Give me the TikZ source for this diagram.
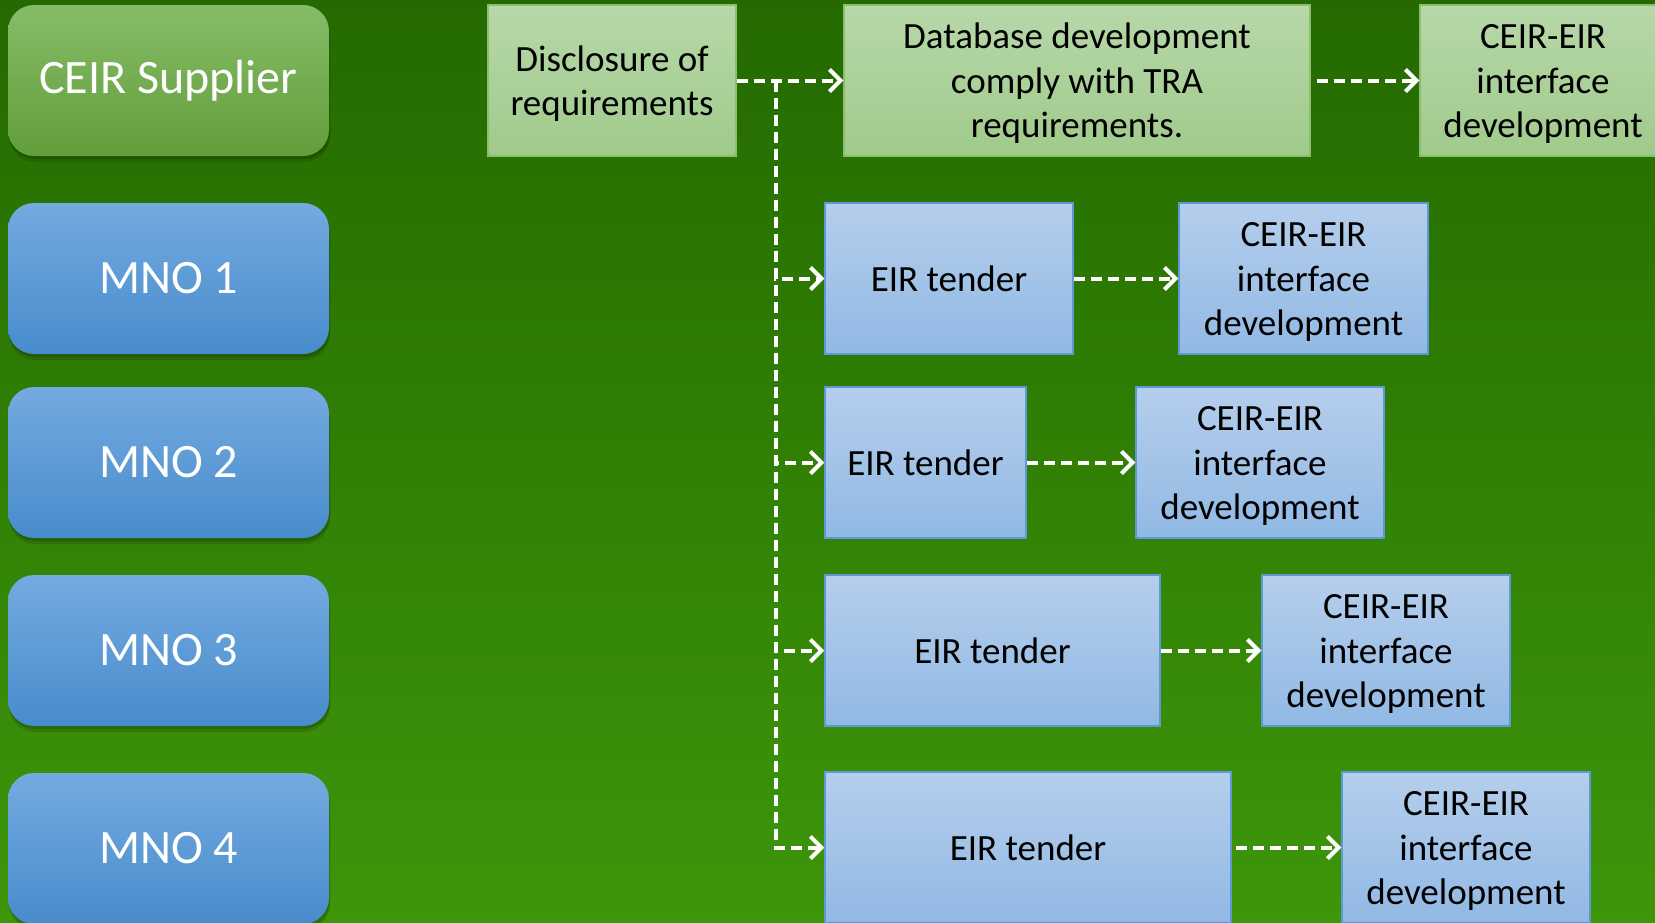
\documentclass[tikz,border=0pt]{standalone}
\usepackage{fontspec}
\setmainfont{Carlito}
\usetikzlibrary{arrows.meta}
\definecolor{bgtop}{RGB}{36,106,0}
\definecolor{bgbot}{RGB}{62,150,10}
\definecolor{gtop}{RGB}{183,216,169}
\definecolor{gbot}{RGB}{160,202,139}
\definecolor{gborder}{RGB}{140,190,110}
\definecolor{btop}{RGB}{181,206,236}
\definecolor{bbot}{RGB}{145,185,228}
\definecolor{bborder}{RGB}{95,152,215}
\definecolor{stop}{RGB}{134,188,104}
\definecolor{sbot}{RGB}{98,158,58}
\definecolor{mtop}{RGB}{116,170,224}
\definecolor{mbot}{RGB}{72,140,204}
\newcommand{\mlines}[1]{\raisebox{-4pt}[\height][\depth]{\begin{tabular}{@{}c@{}}#1\end{tabular}}}
\tikzset{
  lbox/.style={rounded corners=26pt, minimum width=321pt, minimum height=151pt,
    text=white, font=\fontsize{48}{58}\selectfont, inner sep=0pt,
    preaction={fill=black, opacity=0.12, transform canvas={xshift=1pt,yshift=-6pt}},
    preaction={fill=black, opacity=0.15, transform canvas={xshift=1pt,yshift=-3pt}}},
  supbox/.style={lbox, top color=stop, bottom color=sbot},
  mnobox/.style={lbox, top color=mtop, bottom color=mbot},
  pbox/.style={line width=1.5pt, minimum height=151pt, inner sep=0pt,
    font=\fontsize{37}{44.5}\selectfont, text=black},
  gbox/.style={pbox, draw=gborder, top color=gtop, bottom color=gbot},
  bbox/.style={pbox, draw=bborder, top color=btop, bottom color=bbot},
  conn/.style={white, line width=4pt, dash pattern=on 11pt off 6pt,
    -{Straight Barb[length=11pt,width=22pt]}}
}
\begin{document}
\begin{tikzpicture}[x=1pt,y=-1pt]
\useasboundingbox (0,0) rectangle (1655,922);
\clip (0,0) rectangle (1655,922);
\fill[top color=bgtop, bottom color=bgbot] (0,0) rectangle (1655,922);

% left column
\node[supbox] (sup)  at (168.5,80.5)  {CEIR Supplier};
\node[mnobox] (mno1) at (168.5,278.5) {MNO 1};
\node[mnobox] (mno2) at (168.5,462.5) {MNO 2};
\node[mnobox] (mno3) at (168.5,650.5) {MNO 3};
\node[mnobox] (mno4) at (168.5,848.5) {MNO 4};

% top row
\node[gbox, minimum width=248pt] (disc) at (612,80.5) {\mlines{Disclosure of\\requirements}};
\node[gbox, minimum width=466pt] (db) at (1077,80.5) {\mlines{Database development\\comply with TRA\\requirements.}};
\node[gbox, minimum width=246pt] (ce0) at (1543,80.5) {\mlines{CEIR-EIR\\interface\\development}};

% MNO rows
\node[bbox, minimum width=248pt] (eir1) at (949,278.5) {EIR tender};
\node[bbox, minimum width=249pt] (ce1) at (1303.5,278.5) {\mlines{CEIR-EIR\\interface\\development}};
\node[bbox, minimum width=201pt] (eir2) at (925.5,462.5) {EIR tender};
\node[bbox, minimum width=248pt] (ce2) at (1260,462.5) {\mlines{CEIR-EIR\\interface\\development}};
\node[bbox, minimum width=335pt] (eir3) at (992.5,650.5) {EIR tender};
\node[bbox, minimum width=248pt] (ce3) at (1386,650.5) {\mlines{CEIR-EIR\\interface\\development}};
\node[bbox, minimum width=406pt] (eir4) at (1028,847.5) {EIR tender};
\node[bbox, minimum width=248pt] (ce4) at (1466,847.5) {\mlines{CEIR-EIR\\interface\\development}};

% connectors
\coordinate (sp) at (776,80.5);
\draw[conn] (disc.east) -- (db.west);
\draw[conn, shorten <=6pt] (db.east) -- (ce0.west);
\draw[conn] (sp) |- (eir1.west);
\draw[conn] (sp) |- (eir2.west);
\draw[conn] (sp) |- (eir3.west);
\draw[conn] (sp) |- (eir4.west);
\draw[conn] (eir1.east) -- (ce1.west);
\draw[conn] (eir2.east) -- (ce2.west);
\draw[conn] (eir3.east) -- (ce3.west);
\draw[conn, shorten <=4pt] (eir4.east) -- (ce4.west);
\end{tikzpicture}
\end{document}
